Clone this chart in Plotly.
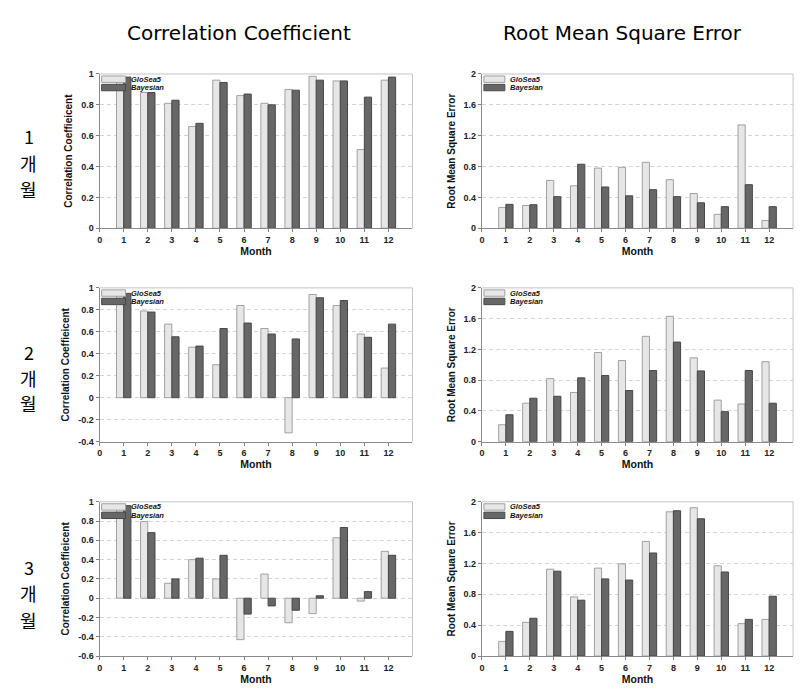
import plotly.graph_objects as go

# ---------------- data ----------------
months = list(range(1, 13))
x_tickvals = list(range(0, 13))

cc1_glo = [0.96, 0.88, 0.81, 0.66, 0.96, 0.86, 0.81, 0.90, 0.985, 0.955, 0.51, 0.96]
cc1_bay = [0.98, 0.88, 0.83, 0.68, 0.945, 0.87, 0.80, 0.895, 0.96, 0.955, 0.85, 0.98]
rmse1_glo = [0.27, 0.295, 0.62, 0.55, 0.78, 0.79, 0.855, 0.63, 0.45, 0.18, 1.34, 0.10]
rmse1_bay = [0.31, 0.305, 0.41, 0.83, 0.535, 0.42, 0.50, 0.41, 0.33, 0.28, 0.565, 0.28]

cc2_glo = [0.93, 0.79, 0.67, 0.46, 0.30, 0.84, 0.63, -0.32, 0.94, 0.84, 0.58, 0.27]
cc2_bay = [0.95, 0.78, 0.555, 0.47, 0.63, 0.68, 0.58, 0.535, 0.91, 0.885, 0.55, 0.67]
rmse2_glo = [0.22, 0.50, 0.82, 0.64, 1.16, 1.055, 1.37, 1.63, 1.09, 0.54, 0.49, 1.04]
rmse2_bay = [0.35, 0.565, 0.59, 0.83, 0.86, 0.665, 0.925, 1.295, 0.92, 0.39, 0.925, 0.50]

cc3_glo = [0.93, 0.795, 0.155, 0.40, 0.20, -0.43, 0.25, -0.255, -0.16, 0.627, -0.03, 0.486]
cc3_bay = [0.96, 0.68, 0.20, 0.415, 0.445, -0.165, -0.08, -0.125, 0.025, 0.733, 0.068, 0.445]
rmse3_glo = [0.19, 0.437, 1.126, 0.767, 1.14, 1.195, 1.486, 1.87, 1.923, 1.17, 0.42, 0.475]
rmse3_bay = [0.32, 0.49, 1.10, 0.724, 1.00, 0.985, 1.336, 1.884, 1.78, 1.09, 0.475, 0.775]

cc1_ticks = [0, 0.2, 0.4, 0.6, 0.8, 1]
cc1_ticktext = ["0", "0.2", "0.4", "0.6", "0.8", "1"]
cc2_ticks = [-0.4, -0.2, 0, 0.2, 0.4, 0.6, 0.8, 1]
cc2_ticktext = ["-0.4", "-0.2", "0", "0.2", "0.4", "0.6", "0.8", "1"]
cc3_ticks = [-0.6, -0.4, -0.2, 0, 0.2, 0.4, 0.6, 0.8, 1]
cc3_ticktext = ["-0.6", "-0.4", "-0.2", "0", "0.2", "0.4", "0.6", "0.8", "1"]
rmse_ticks = [0, 0.4, 0.8, 1.2, 1.6, 2]
rmse_ticktext = ["0", "0.4", "0.8", "1.2", "1.6", "2"]

series_names = ["GloSea5", "Bayesian"]
col_titles = ["Correlation Coefficient", "Root Mean Square Error"]
y_titles = ["Correlation Coeffieicent", "Root Mean Square Error"]
x_title = "Month"
row_labels = [["1", "개", "월"], ["2", "개", "월"], ["3", "개", "월"]]

# ---------------- layout helpers ----------------
W, H = 812, 698
def px(x):
    return x / W
def py(y):
    return 1 - y / H

col_px = [(97, 411), (480.7, 793)]
row_px = [(70, 226.5), (287, 443), (504, 660.5)]

GLO_FILL, GLO_LINE = "#e6e6e6", "#a0a0a0"
BAY_FILL, BAY_LINE = "#676767", "#474747"
FONT = "Liberation Sans"

panels = [
    (cc1_glo, cc1_bay, [-0.0, 1], cc1_ticks, cc1_ticktext),
    (rmse1_glo, rmse1_bay, [0, 2], rmse_ticks, rmse_ticktext),
    (cc2_glo, cc2_bay, [-0.4, 1], cc2_ticks, cc2_ticktext),
    (rmse2_glo, rmse2_bay, [0, 2], rmse_ticks, rmse_ticktext),
    (cc3_glo, cc3_bay, [-0.6, 1], cc3_ticks, cc3_ticktext),
    (rmse3_glo, rmse3_bay, [0, 2], rmse_ticks, rmse_ticktext),
]

fig = go.Figure()
shapes = []
annotations = []
layout_axes = {}

for i, (glo, bay, yr, yt, ytt) in enumerate(panels):
    r, c = divmod(i, 2)
    n = i + 1
    xs = "" if n == 1 else str(n)
    xref, yref = "x" + xs, "y" + xs
    fig.add_trace(go.Bar(x=months, y=glo, name=series_names[0], xaxis=xref, yaxis=yref,
                         width=0.3, offset=-0.3,
                         marker=dict(color=GLO_FILL, line=dict(color=GLO_LINE, width=1)),
                         showlegend=False))
    fig.add_trace(go.Bar(x=months, y=bay, name=series_names[1], xaxis=xref, yaxis=yref,
                         width=0.3, offset=0.0,
                         marker=dict(color=BAY_FILL, line=dict(color=BAY_LINE, width=1)),
                         showlegend=False))
    x0p, x1p = col_px[c]
    y0p, y1p = row_px[r]
    layout_axes["xaxis" + xs] = dict(
        domain=[px(x0p), px(x1p)], anchor=yref, range=[0, 13],
        tickvals=x_tickvals, ticks="outside", ticklen=3, tickcolor="#808080",
        showline=True, linecolor="#8a8a8a", linewidth=1, showgrid=False, zeroline=False,
        tickfont=dict(family=FONT, size=9, color="#222222", weight="bold"),
        title=dict(text=x_title, standoff=2,
                   font=dict(family=FONT, size=10.5, color="#111111", weight="bold")),
    )
    layout_axes["yaxis" + xs] = dict(
        domain=[py(y1p), py(y0p)], anchor=xref, range=yr,
        tickvals=yt, ticktext=ytt, ticks="outside", ticklen=3, tickcolor="#808080",
        showline=True, linecolor="#8a8a8a", linewidth=1,
        showgrid=True, gridcolor="#d4d4d4", griddash="4px,3px", gridwidth=1,
        zeroline=False,
        tickfont=dict(family=FONT, size=9, color="#222222", weight="bold"),
        title=dict(text=y_titles[c], standoff=6,
                   font=dict(family=FONT, size=10, color="#111111", weight="bold")),
    )
    # frame top and right
    shapes.append(dict(type="line", xref="paper", yref="paper",
                       x0=px(x0p), x1=px(x1p), y0=py(y0p), y1=py(y0p),
                       line=dict(color="#c4c4c4", width=1)))
    shapes.append(dict(type="line", xref="paper", yref="paper",
                       x0=px(x1p), x1=px(x1p), y0=py(y0p), y1=py(y1p),
                       line=dict(color="#c4c4c4", width=1)))
    # legend swatches
    sw = 24 if c == 0 else 21
    sx0 = x0p + 2
    sx1 = sx0 + sw
    rows = [(y0p + 2, y0p + 8.5, GLO_FILL, GLO_LINE, series_names[0]),
            (y0p + 10.5, y0p + 17, BAY_FILL, BAY_LINE, series_names[1])]
    for (ya, yb, fc, lc, nm) in rows:
        shapes.append(dict(type="rect", xref="paper", yref="paper",
                           x0=px(sx0), x1=px(sx1), y0=py(yb), y1=py(ya),
                           fillcolor=fc, line=dict(color=lc, width=1), layer="above"))
        annotations.append(dict(xref="paper", yref="paper", x=px(sx1 + 3), y=py((ya + yb) / 2),
                                text=nm, showarrow=False, xanchor="left", yanchor="middle",
                                font=dict(family=FONT, size=7.5, color="#111111",
                                          weight="bold", style="italic")))

# column titles
for c, t in enumerate(col_titles):
    annotations.append(dict(xref="paper", yref="paper", x=px([237, 622][c]), y=py(28),
                            text=t, showarrow=False, xanchor="center", yanchor="middle",
                            font=dict(family="DejaVu Sans", size=20, color="#000000")))

# row labels
row_label_y = [[133, 160, 187], [352, 378, 404], [570, 597, 624]]
for r, labs in enumerate(row_labels):
    for k, lab in enumerate(labs):
        annotations.append(dict(xref="paper", yref="paper", x=px(26), y=py(row_label_y[r][k]),
                                text=lab, showarrow=False, xanchor="center", yanchor="middle",
                                font=dict(family="Noto Sans CJK KR", size=18, color="#000000")))

fig.update_layout(
    width=W, height=H, margin=dict(l=0, r=0, t=0, b=0),
    paper_bgcolor="white", plot_bgcolor="white",
    barmode="overlay", showlegend=False,
    shapes=shapes, annotations=annotations,
    **layout_axes,
)

fig.write_html("out.html")
